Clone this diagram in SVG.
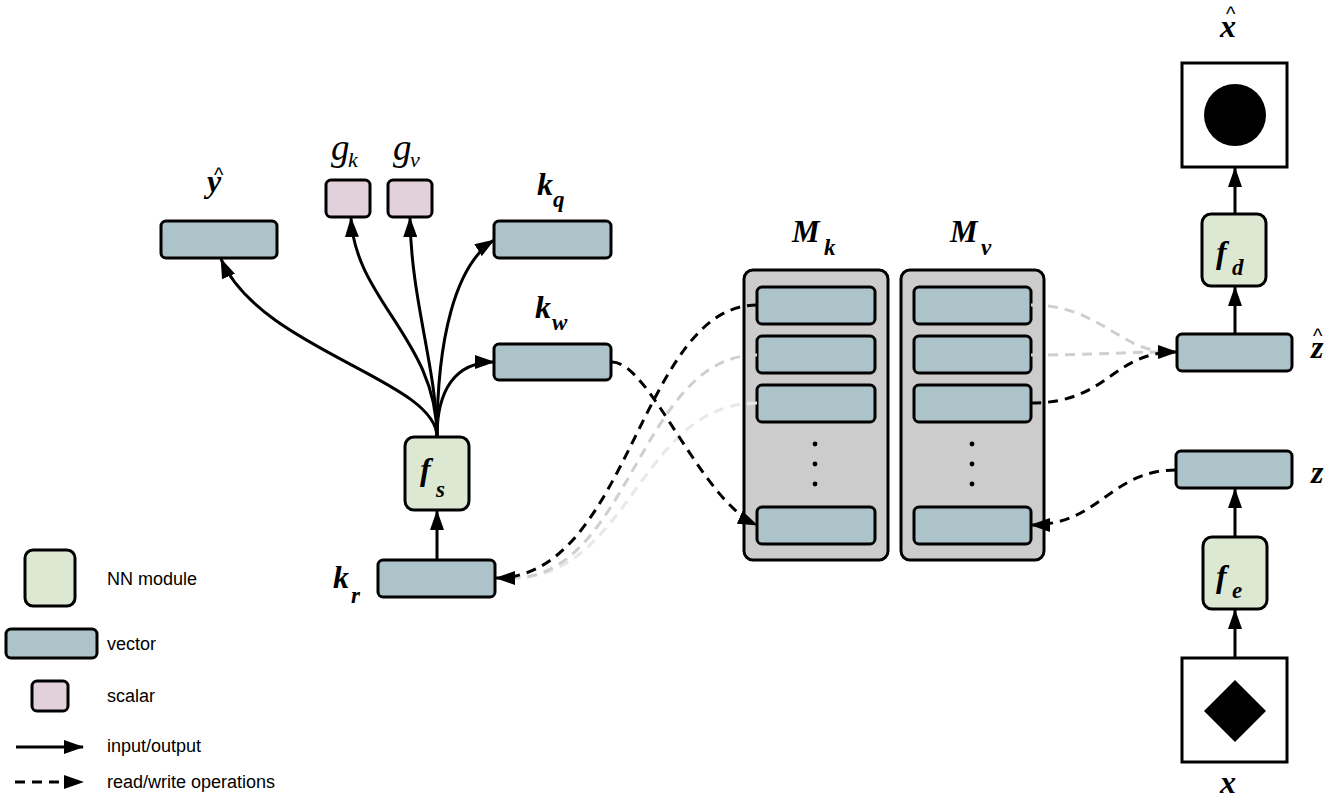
<svg xmlns="http://www.w3.org/2000/svg" width="1340" height="801" viewBox="0 0 1340 801">
  <style>
    .vec { fill: #abc3c9; stroke: #000; stroke-width: 3; }
    .nn { fill: #dde8d3; stroke: #000; stroke-width: 3; }
    .sc { fill: #e2d0da; stroke: #000; stroke-width: 3; }
    .mem { fill: #cccccc; stroke: #000; stroke-width: 3; }
    .img { fill: #fff; stroke: #000; stroke-width: 3; }
    .io { fill: none; stroke: #000; stroke-width: 3; }
    .rw { fill: none; stroke: #000; stroke-width: 3; stroke-dasharray: 10 7; }
    .rw1 { fill: none; stroke: #cfcfcf; stroke-width: 3; stroke-dasharray: 10 7; }
    .rw2 { fill: none; stroke: #e8e8e8; stroke-width: 3; stroke-dasharray: 10 7; }
    .sym { font-family: "Liberation Serif", "DejaVu Serif", serif; font-style: italic; font-weight: bold; fill: #000; }
    .thin { font-weight: normal; }
    .big { font-size: 32px; }
    .sub { font-size: 23px; }
    .hat { font-family: "Liberation Sans", sans-serif; font-style: normal; font-weight: normal; font-size: 20px; }
    .leg { font-family: "Liberation Sans", Arial, sans-serif; font-size: 18px; fill: #000; }
  </style>
  <defs>
    <marker id="ah" markerWidth="20" markerHeight="14" refX="19" refY="7" orient="auto" markerUnits="userSpaceOnUse">
      <path d="M0,0 L20,7 L0,14 z" fill="#000"/>
    </marker>
  </defs>

  <!-- controller side -->
  <g id="y-hat">
    <rect class="vec" x="161" y="221" width="116" height="37" rx="5"/>
    <text class="sym big" x="207" y="192">y<tspan class="hat" x="214" y="182">^</tspan></text>
  </g>
  <g id="g-k">
    <rect class="sc" x="326" y="180" width="44" height="37" rx="5"/>
    <text class="sym thin" x="331" y="160"><tspan font-size="37">g</tspan><tspan font-size="22" x="348" y="167">k</tspan></text>
  </g>
  <g id="g-v">
    <rect class="sc" x="388" y="180" width="44" height="37" rx="5"/>
    <text class="sym thin" x="393" y="160"><tspan font-size="37">g</tspan><tspan font-size="22" x="410" y="167">v</tspan></text>
  </g>
  <g id="k-q">
    <rect class="vec" x="494" y="221" width="117" height="37" rx="5"/>
    <text class="sym big" x="537" y="195">k<tspan class="sub" x="553" y="207">q</tspan></text>
  </g>
  <g id="k-w">
    <rect class="vec" x="494" y="344" width="117" height="36" rx="5"/>
    <text class="sym big" x="535" y="318">k<tspan class="sub" x="552" y="330">w</tspan></text>
  </g>
  <g id="f-s">
    <rect class="nn" x="405" y="437" width="64" height="73" rx="9"/>
    <text class="sym big" x="420" y="480">f<tspan class="sub" x="436" y="497">s</tspan></text>
  </g>
  <g id="k-r">
    <rect class="vec" x="378" y="560" width="117" height="37" rx="5"/>
    <text class="sym big" x="333" y="588">k<tspan class="sub" x="351" y="603">r</tspan></text>
  </g>

  <!-- key memory -->
  <g id="M-k">
    <rect class="mem" x="744" y="270" width="144" height="290" rx="9"/>
    <rect class="vec" x="757" y="287" width="118" height="37" rx="5"/>
    <rect class="vec" x="757" y="336" width="118" height="37" rx="5"/>
    <rect class="vec" x="757" y="385" width="118" height="37" rx="5"/>
    <rect class="vec" x="757" y="507" width="118" height="37" rx="5"/>
    <circle cx="815" cy="444" r="2.4"/>
    <circle cx="815" cy="464" r="2.4"/>
    <circle cx="815" cy="484" r="2.4"/>
    <text class="sym" font-size="31" x="792" y="242">M<tspan class="sub" x="824" y="255">k</tspan></text>
  </g>
  <!-- value memory -->
  <g id="M-v">
    <rect class="mem" x="901" y="270" width="143" height="290" rx="9"/>
    <rect class="vec" x="914" y="287" width="117" height="37" rx="5"/>
    <rect class="vec" x="914" y="336" width="117" height="37" rx="5"/>
    <rect class="vec" x="914" y="385" width="117" height="37" rx="5"/>
    <rect class="vec" x="914" y="507" width="117" height="37" rx="5"/>
    <circle cx="972" cy="444" r="2.4"/>
    <circle cx="972" cy="464" r="2.4"/>
    <circle cx="972" cy="484" r="2.4"/>
    <text class="sym" font-size="31" x="950" y="242">M<tspan class="sub" x="981" y="255">v</tspan></text>
  </g>

  <!-- encoder / decoder -->
  <g id="x-hat">
    <rect class="img" x="1182" y="63" width="105" height="104"/>
    <circle cx="1235" cy="115" r="31" fill="#000"/>
    <text class="sym big" x="1220" y="37">x<tspan class="hat" x="1226" y="21">^</tspan></text>
  </g>
  <g id="f-d">
    <rect class="nn" x="1202" y="214" width="64" height="72" rx="9"/>
    <text class="sym big" x="1216" y="263">f<tspan class="sub" x="1232" y="275">d</tspan></text>
  </g>
  <g id="z-hat">
    <rect class="vec" x="1177" y="334" width="115" height="37" rx="5"/>
    <text class="sym big" x="1311" y="358">z<tspan class="hat" x="1313" y="343">^</tspan></text>
  </g>
  <g id="z">
    <rect class="vec" x="1176" y="451" width="116" height="37" rx="5"/>
    <text class="sym big" x="1311" y="483">z</text>
  </g>
  <g id="f-e">
    <rect class="nn" x="1203" y="537" width="64" height="72" rx="9"/>
    <text class="sym big" x="1216" y="587">f<tspan class="sub" x="1232" y="598">e</tspan></text>
  </g>
  <g id="x">
    <rect class="img" x="1182" y="658" width="105" height="104"/>
    <polygon points="1235,680 1266,711 1235,742 1204,711" fill="#000"/>
    <text class="sym big" x="1220" y="793">x</text>
  </g>

  <!-- connectors -->
  <g id="connectors">
    <!-- reads from key memory into k_r -->
    <path class="rw2" d="M757,403 C640,403 630,578 512,578"/>
    <path class="rw1" d="M757,355 C640,355 630,578 512,578"/>
    <path class="rw" d="M757,305 C640,305 630,578 496,578" marker-end="url(#ah)"/>
    <!-- write of k_w into key memory -->
    <path class="rw" d="M612,362 C650,362 700,500 757,525" marker-end="url(#ah)"/>
    <!-- reads from value memory into z-hat -->
    <path class="rw1" d="M1031,305 C1100,305 1120,352 1170,352"/>
    <path class="rw1" d="M1031,355 C1100,355 1120,352 1170,352"/>
    <path class="rw" d="M1031,403 C1110,403 1110,352 1177,352" marker-end="url(#ah)"/>
    <!-- write of z into value memory -->
    <path class="rw" d="M1176,470 C1110,470 1100,525 1031,525" marker-end="url(#ah)"/>

    <!-- controller outputs -->
    <path class="io" d="M437,437 C437,380 260,350 221,259" marker-end="url(#ah)"/>
    <path class="io" d="M437,437 C437,340 355,300 351,218" marker-end="url(#ah)"/>
    <path class="io" d="M437,437 C437,370 411,300 410,218" marker-end="url(#ah)"/>
    <path class="io" d="M437,437 C437,340 455,265 494,240" marker-end="url(#ah)"/>
    <path class="io" d="M437,437 C437,390 455,362 494,362" marker-end="url(#ah)"/>
    <path class="io" d="M437,560 L437,511" marker-end="url(#ah)"/>
    <!-- encoder / decoder column -->
    <path class="io" d="M1235,658 L1235,610" marker-end="url(#ah)"/>
    <path class="io" d="M1235,537 L1235,489" marker-end="url(#ah)"/>
    <path class="io" d="M1235,334 L1235,287" marker-end="url(#ah)"/>
    <path class="io" d="M1235,214 L1235,168" marker-end="url(#ah)"/>
  </g>

  <!-- legend -->
  <g id="legend">
    <rect class="nn" x="25" y="550" width="50" height="56" rx="8"/>
    <text class="leg" x="107" y="585">NN module</text>
    <rect class="vec" x="6" y="629" width="91" height="29" rx="5"/>
    <text class="leg" x="107" y="650">vector</text>
    <rect class="sc" x="32" y="681" width="36" height="30" rx="5"/>
    <text class="leg" x="107" y="702">scalar</text>
    <path class="io" d="M16,747 L83,747" marker-end="url(#ah)"/>
    <text class="leg" x="107" y="752">input/output</text>
    <path class="rw" d="M15,782 L83,782" stroke-dasharray="12 13" marker-end="url(#ah)"/>
    <text class="leg" x="107" y="788">read/write operations</text>
  </g>
</svg>
